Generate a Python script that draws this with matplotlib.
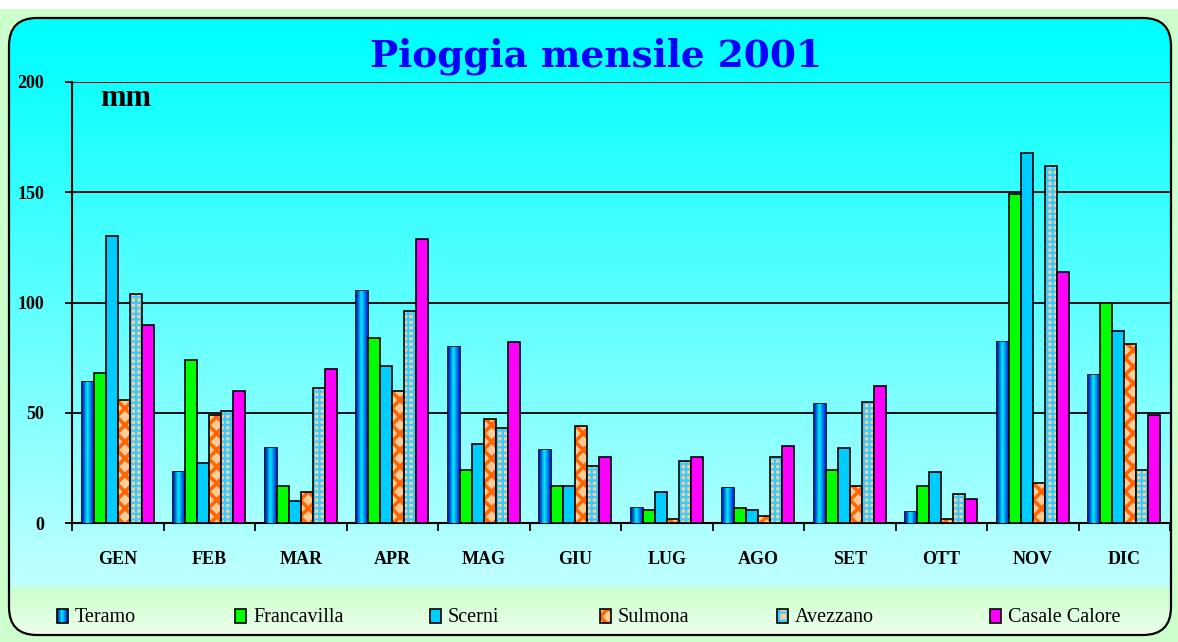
import numpy as np
import matplotlib.pyplot as plt
from matplotlib.patches import Rectangle, FancyBboxPatch
import matplotlib as mpl

months = ['GEN', 'FEB', 'MAR', 'APR', 'MAG', 'GIU', 'LUG', 'AGO', 'SET', 'OTT', 'NOV', 'DIC']
teramo = [64, 23, 34, 105, 80, 33, 7, 16, 54, 5, 82, 67]
francavilla = [68, 74, 17, 84, 24, 17, 6, 7, 24, 17, 149, 100]
scerni = [130, 27, 10, 71, 36, 17, 14, 6, 34, 23, 168, 87]
sulmona = [56, 49, 14, 60, 47, 44, 2, 3, 17, 2, 18, 81]
avezzano = [104, 51, 61, 96, 43, 26, 28, 30, 55, 13, 162, 24]
casale = [90, 60, 70, 129, 82, 30, 30, 35, 62, 11, 114, 49]
stations = ['Teramo', 'Francavilla', 'Scerni', 'Sulmona', 'Avezzano', 'Casale Calore']

W, H = 1178, 642
fig = plt.figure(figsize=(W / 100, H / 100), dpi=100, facecolor='white')

# background panel (pixel coords)
bg = fig.add_axes([0, 0, 1, 1], zorder=-5)
bg.set_xlim(0, W)
bg.set_ylim(H, 0)
bg.axis('off')
bg.add_patch(Rectangle((0, 9), W, H - 9, facecolor='#ccffcc', edgecolor='none'))

panel = FancyBboxPatch((9, 18), 1162, 617, boxstyle='round,pad=0,rounding_size=28',
                       facecolor='none', edgecolor='black', lw=1.6, zorder=3)
bg.add_patch(panel)
rows = []
for y in range(18, 636):
    if y < 588:
        t = max(0, (y - 40) / 548)
        rows.append([0.0 + 0.76 * t, 1.0, 1.0])
    else:
        t = (y - 588) / 48
        rows.append([0.80 + 0.13 * t, 1.0, 0.80 + 0.13 * t])
grad = np.array(rows)[:, None, :]
im = bg.imshow(grad, extent=[9, 1171, 635, 18], aspect='auto', zorder=1)
im.set_clip_path(panel)

teramo_cmap = mpl.colors.LinearSegmentedColormap.from_list(
    'ter', [(0, '#0010b0'), (0.45, '#00f0ff'), (1, '#0018d0')])
hgrad = np.linspace(0, 1, 64)[None, :]


def gradient_bar(axis, rect):
    x0, y0 = rect.get_x(), rect.get_y()
    img = axis.imshow(hgrad, cmap=teramo_cmap, aspect='auto',
                      extent=[x0, x0 + rect.get_width(), y0, y0 + rect.get_height()],
                      zorder=rect.get_zorder())
    img.set_clip_path(rect)


# main axes
ax = fig.add_axes([72 / W, 1 - 523 / H, 1098 / W, 441 / H])
ax.patch.set_alpha(0)
x = np.arange(len(months)) + 0.5
w = 0.131
series = [teramo, francavilla, scerni, sulmona, avezzano, casale]

for k, vals in enumerate(series):
    pos = x + (k - 2.5) * w
    if k == 0:
        bars = ax.bar(pos, vals, w, facecolor='none', edgecolor='black', lw=1.2, zorder=3)
        for r in bars:
            gradient_bar(ax, r)
    elif k == 1:
        ax.bar(pos, vals, w, color='#00ff00', edgecolor='black', lw=1.2, zorder=3)
    elif k == 2:
        ax.bar(pos, vals, w, color='#00ccff', edgecolor='black', lw=1.2, zorder=3)
    elif k == 3:
        with mpl.rc_context({'hatch.linewidth': 2.6}):
            ax.bar(pos, vals, w, facecolor='#ffcc99', edgecolor='#ff6600', hatch='xx', lw=0, zorder=3)
        ax.bar(pos, vals, w, fill=False, edgecolor='black', lw=1.2, zorder=3)
    elif k == 4:
        with mpl.rc_context({'hatch.linewidth': 1.6}):
            ax.bar(pos, vals, w, facecolor='#ffcc99', edgecolor='#33ccff', hatch='+++', lw=0, zorder=3)
        ax.bar(pos, vals, w, fill=False, edgecolor='black', lw=1.2, zorder=3)
    else:
        ax.bar(pos, vals, w, color='#ff00ff', edgecolor='black', lw=1.2, zorder=3)

ax.set_xlim(0, 12)
ax.set_ylim(0, 200)
ax.set_yticks([0, 50, 100, 150, 200])
ax.yaxis.grid(True, color='black', lw=1.3)
ax.set_axisbelow(True)
for s in ['top', 'right']:
    ax.spines[s].set_visible(False)
ax.spines['left'].set_linewidth(1.5)
ax.spines['bottom'].set_linewidth(1.5)
ax.tick_params(axis='y', direction='out', length=5, width=1.3, pad=15,
               labelsize=13)
for lab in ax.get_yticklabels():
    lab.set_fontfamily('Liberation Serif')
    lab.set_fontweight('bold')
ax.set_xticks(np.arange(13))
ax.set_xticklabels([])
ax.set_xticks(x, minor=True)
ax.set_xticklabels(months, minor=True, fontfamily='Liberation Serif',
                   fontweight='bold', fontsize=13)
ax.tick_params(axis='x', which='major', direction='out', length=6, width=1.3)
ax.tick_params(axis='x', which='minor', length=0, pad=20)

fig.text(100 / W, 1 - 99 / H, 'mm', fontfamily='Liberation Serif', fontweight='bold',
         fontsize=22, va='center', ha='left')
fig.text(596 / W, 1 - 56 / H, 'Pioggia mensile 2001', fontfamily='DejaVu Serif',
         fontweight='bold', fontsize=27, color='#0000ff', ha='center', va='center')

# legend
leg_x = [57, 235, 430, 600, 777, 990]
ly = 616
for k, (name, lx) in enumerate(zip(stations, leg_x)):
    r = Rectangle((lx, ly - 7), 11, 14, facecolor='none', edgecolor='black', lw=1.2, zorder=5)
    if k == 0:
        bg.add_patch(r)
        img = bg.imshow(hgrad, cmap=teramo_cmap, aspect='auto',
                        extent=[lx, lx + 11, ly + 7, ly - 7], zorder=4)
        img.set_clip_path(r)
    elif k == 3:
        with mpl.rc_context({'hatch.linewidth': 2.6}):
            bg.add_patch(Rectangle((lx, ly - 7), 11, 14, facecolor='#ffcc99', edgecolor='#ff6600',
                                   hatch='xx', lw=0, zorder=4))
        bg.add_patch(r)
    elif k == 4:
        with mpl.rc_context({'hatch.linewidth': 1.6}):
            bg.add_patch(Rectangle((lx, ly - 7), 11, 14, facecolor='#ffcc99', edgecolor='#33ccff',
                                   hatch='++', lw=0, zorder=4))
        bg.add_patch(r)
    else:
        r.set_facecolor(['', '#00ff00', '#00ccff', '', '', '#ff00ff'][k])
        bg.add_patch(r)
    bg.text(lx + 18, ly + 2, name, fontfamily='Liberation Serif', fontsize=14.5,
            va='center', ha='left', zorder=5)

bg.set_xlim(0, W)
bg.set_ylim(H, 0)
ax.set_xlim(0, 12)
ax.set_ylim(0, 200)

fig.savefig('out.png', dpi=100)
